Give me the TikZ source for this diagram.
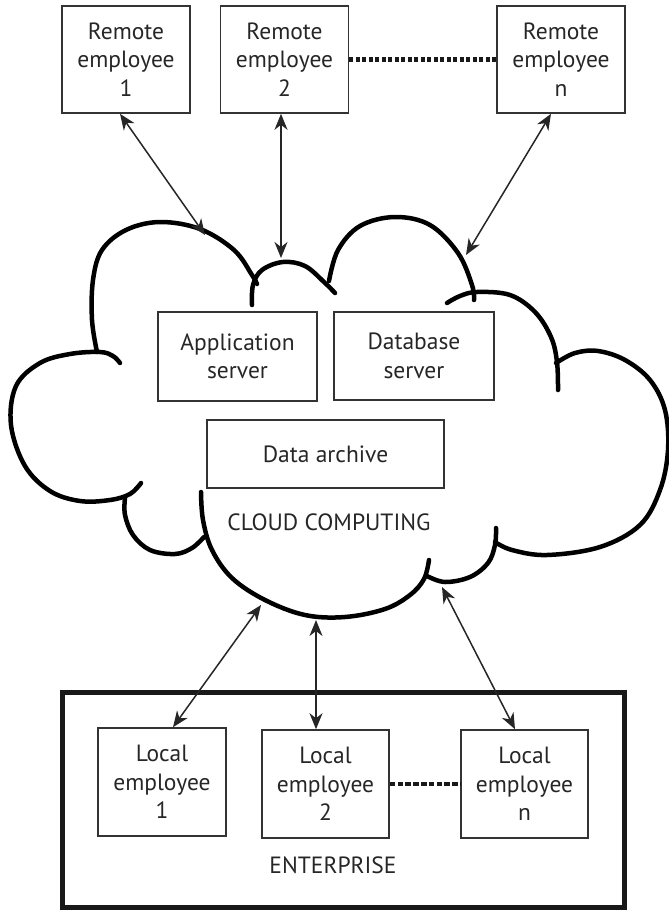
\documentclass[tikz,border=0pt]{standalone}
\usepackage{fontspec}
\setmainfont{PT Sans}
\usetikzlibrary{arrows.meta}
\begin{document}
\begin{tikzpicture}[x=1pt,y=-1pt,
  box/.style={draw=black!80, line width=1.6pt, inner sep=0pt, align=center, text=black!85, font=\fontsize{23.5}{28.5}\selectfont},
  lbl/.style={text=black!85, font=\fontsize{23.5}{28}\selectfont, inner sep=0pt},
  link/.style={line width=1.5pt, black!85, {Stealth[length=16pt,width=13pt,inset=5pt]}-{Stealth[length=16pt,width=13pt,inset=5pt]}},
  dotsa/.style={line width=4.5pt, dash pattern=on 4pt off 2.5pt, black!90},
  dotsb/.style={line width=4.5pt, dash pattern=on 5.5pt off 2.3pt, black!90},
  cloudline/.style={line width=4.5pt, line cap=round, line join=round}]
\useasboundingbox (0,0) rectangle (669,910);

% remote employees
\node[box, minimum width=128pt, minimum height=107pt] (r1) at (126,59.5) {Remote\\employee\\1};
\node[box, minimum width=128pt, minimum height=107pt] (r2) at (284.5,59.5) {Remote\\employee\\2};
\node[box, minimum width=128pt, minimum height=107pt] (rn) at (561,59.5) {Remote\\employee\\n};
\draw[dotsa] (r2.east) -- (rn.west);

% cloud outline
\draw[cloudline] plot[smooth, tension=0.6] coordinates {(141,483) (130,494) (110,500) (80,501) (50,491) (25,466) (11,425) (16,386) (40,363) (70,354) (100,352) (113,356) (120,363)};
\draw[cloudline] plot[smooth, tension=0.6] coordinates {(97,352) (92,320) (93,280) (102,250) (126,230) (160,222) (200,229) (234,250) (252,275) (257,284)};
\draw[cloudline] plot[smooth, tension=0.6] coordinates {(252,305) (253,285) (262,270) (283,262) (305,266) (324,282) (335,293)};
\draw[cloudline] plot[smooth, tension=0.6] coordinates {(329,281) (338,250) (360,226) (395,217) (430,225) (458,253) (472,285) (474,300)};
\draw[cloudline] plot[smooth, tension=0.6] coordinates {(447,303) (460,296) (477,292) (510,295) (535,312) (551,337) (557,362) (558,390)};
\draw[cloudline] plot[smooth, tension=0.6] coordinates {(556,363) (575,353) (598,351) (625,360) (650,380) (665,410) (668,450) (660,490) (640,525) (600,547) (547,555) (512,550) (495,542)};
\draw[cloudline] plot[smooth, tension=0.6] coordinates {(496,528) (495,545) (488,563) (470,577) (445,582) (427,576)};
\draw[cloudline] plot[smooth, tension=0.6] coordinates {(429,560) (424,579) (410,595) (385,609) (345,617) (305,615) (265,600) (232,578) (212,550) (203,520) (201,492)};
\draw[cloudline] plot[smooth, tension=0.6] coordinates {(204,537) (192,548) (175,554) (150,550) (133,535) (125,515) (125,498)};

% cloud contents
\node[box, minimum width=159pt, minimum height=89pt] (app) at (237.5,356.5) {Application\\server};
\node[box, minimum width=160pt, minimum height=88pt] (db) at (414,356) {Database\\server};
\node[box, minimum width=237pt, minimum height=68pt] (arch) at (325.5,454) {Data archive};
\node[lbl] (cc) at (329,522) {CLOUD COMPUTING};

% enterprise
\node[draw=black!90, line width=5pt, minimum width=562pt, minimum height=215pt, inner sep=0pt] (ent) at (343,799.5) {};
\node[box, minimum width=128pt, minimum height=108pt] (l1) at (162,782) {Local\\employee\\1};
\node[box, minimum width=127pt, minimum height=108pt] (l2) at (325.5,784) {Local\\employee\\2};
\node[box, minimum width=127pt, minimum height=108pt] (ln) at (524.5,784) {Local\\employee\\n};
\draw[dotsb] (l2.east) -- (ln.west);
\node[lbl] (entl) at (333,865) {ENTERPRISE};

% connection points on the cloud
\coordinate (c1) at (205,235);
\coordinate (c2) at (281,258);
\coordinate (c3) at (466,255);
\coordinate (c4) at (261,605);
\coordinate (c5) at (316,620);
\coordinate (c6) at (442,587);

\draw[link] ([xshift=-6pt]r1.south) -- (c1);
\draw[link] ([xshift=-3.5pt]r2.south) -- (c2);
\draw[link] ([xshift=-10pt]rn.south) -- (c3);
\draw[link] (c4) -- ([xshift=11pt]l1.north);
\draw[link] (c5) -- ([xshift=-9.5pt]l2.north);
\draw[link] (c6) -- ([xshift=-9.5pt]ln.north);
\end{tikzpicture}
\end{document}
